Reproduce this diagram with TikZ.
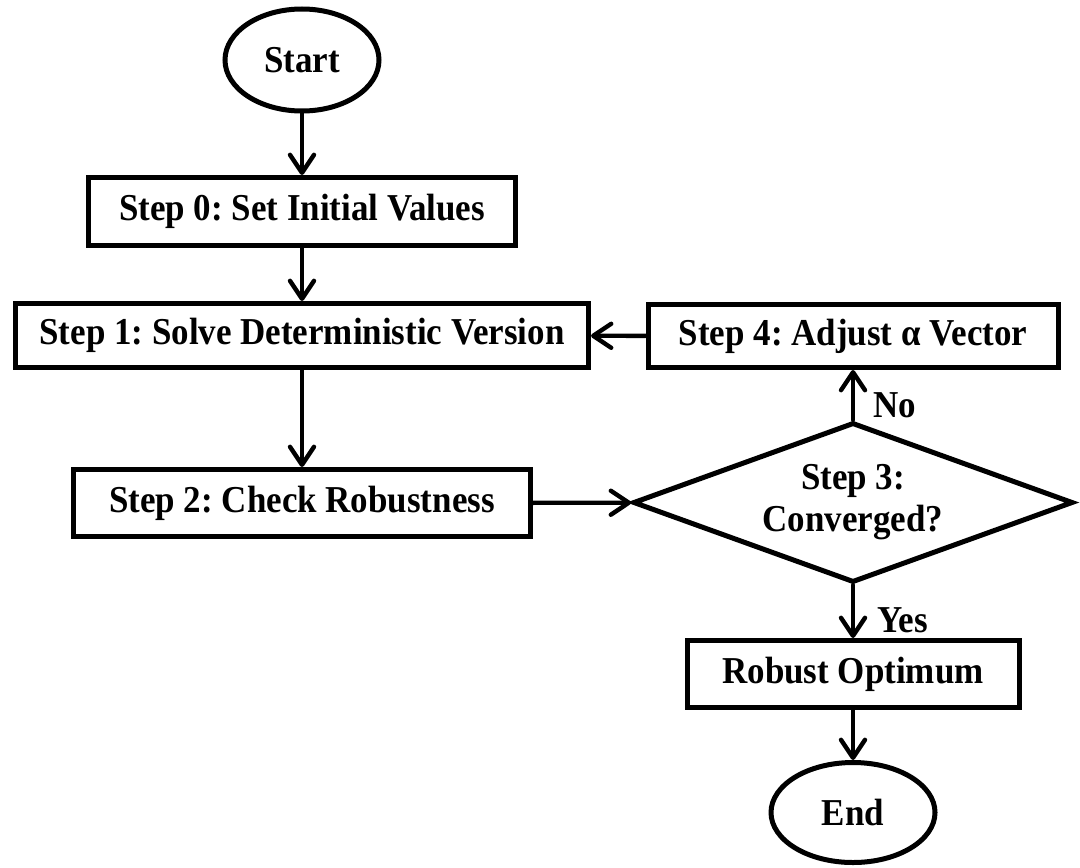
\documentclass[tikz,border=0pt]{standalone}
\usepackage{fontspec}
\setmainfont{Liberation Serif}[FakeStretch=0.92]
\frenchspacing
\usetikzlibrary{arrows.meta,positioning,shapes.geometric}
\tikzset{
  flow/.style={-{Straight Barb[length=9pt,width=12pt,round]}, line width=2.2pt, line cap=round},
  stage/.style={draw, line width=2.5pt, align=center, inner sep=0pt},
  term/.style={ellipse, draw, line width=2.5pt, inner sep=0pt},
  decide/.style={diamond, draw, line width=2.5pt, aspect=2.75, inner sep=0pt, align=center},
  tag/.style={inner sep=0pt},
}
\begin{document}
\begin{tikzpicture}[x=0.5pt,y=-0.5pt,font=\fontsize{19}{21}\selectfont\bfseries]
    \useasboundingbox (0,0) rectangle (1080,867);
    % left column
    \node[term,minimum width=77pt,minimum height=51pt] (start) at (302,60) {Start};
    \node[stage,minimum width=213.5pt,minimum height=34pt] (init) at (302,211.5) {Step 0: Set Initial Values};
    \node[stage,minimum width=286.5pt,minimum height=32pt] (solve) at (302,335.5) {Step 1: Solve Deterministic Version};
    \node[stage,minimum width=228.5pt,minimum height=33.5pt] (check) at (302,503) {Step 2: Check Robustness};
    % right column
    \node[decide,minimum width=220pt,minimum height=80pt] (conv) at (853,502.5) {Step 3:\\Converged?};
    \node[stage,minimum width=205pt,minimum height=31.5pt] (adjust) at (853,336) {Step 4: Adjust α Vector};
    \node[stage,minimum width=166pt,minimum height=33.5pt] (robust) at (853,674) {Robust Optimum};
    \node[term,minimum width=82pt,minimum height=50pt] (stop) at (853,812.5) {End};
    \draw[flow] (start) -- (init);
    \draw[flow] (init) -- (solve);
    \draw[flow] (solve) -- (check);
    \draw[flow] (check) -- (conv);
    \draw[flow] (conv) -- node[tag,pos=0.3,right=9pt] {No} (adjust);
    \draw[flow] (adjust) -- (solve);
    \draw[flow] (conv) -- node[tag,pos=0.66,right=11pt] {Yes} (robust);
    \draw[flow] (robust) -- (stop);
  \end{tikzpicture}
\end{document}
